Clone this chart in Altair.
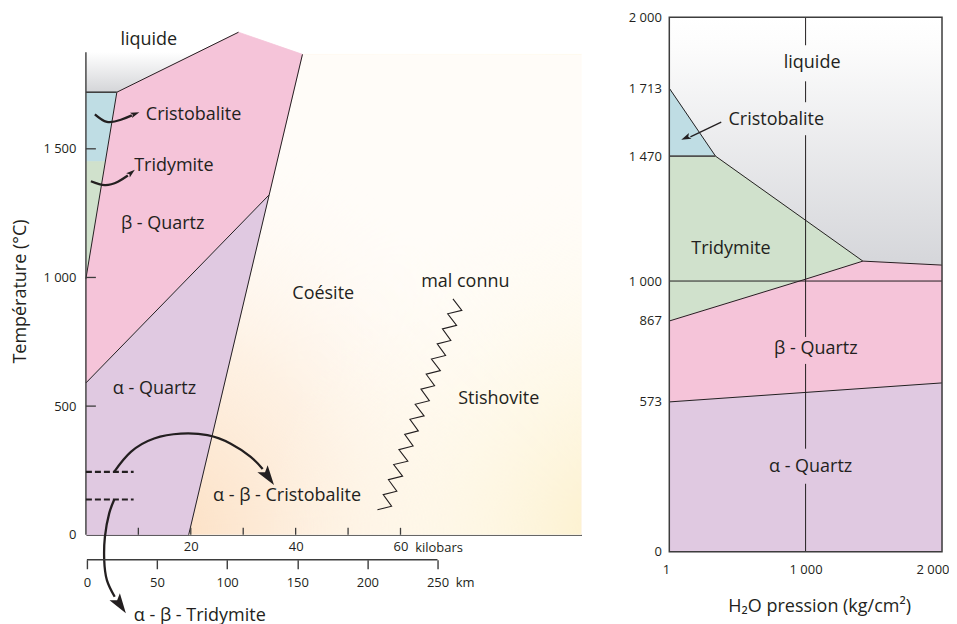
import altair as alt
import pandas as pd

FONT = "Open Sans"
INK = "#231f20"
AXC = "#3d3d3d"
PINK = "#f5c4d9"
LAV = "#e0c9e1"
BLUE = "#bfdde4"
GREEN = "#d0e1cc"
SPACE_FMT = "replace(format(datum.value, ','), ',', ' ')"
ARROW = "M0,0L-0.5,1.6L0,1.25L0.5,1.6Z"

# ---------------- Left panel: pression (kilobars) / température (°C)
L_W, L_H = 496, 518
L_P_MAX, L_T_MAX = 94.5, 2011
L_AXIS_TOP = 1875
KM_DOMAIN = [-0.7, 352.6]
KBAR_LABELS = [20, 40, 60]
KBAR_TICKS = [10, 20, 30, 40, 50, 60]
L_T_TICKS = [0, 500, 1000, 1500]
KM_TICKS = [0, 50, 100, 150, 200, 250]

L_LIQ = [(0, 1720), (5.9, 1720), (29.1, 1953), (0, 1953)]
L_COES = [(41.3, 1867), (94.5, 1867), (94.5, 0), (19.6, 0)]
L_CRISTO = [(0, 1720), (5.9, 1720), (3.7, 1450), (0, 1450)]
L_TRIDY = [(0, 1450), (3.7, 1450), (0, 995)]
L_BETA = [(5.9, 1720), (29.1, 1953), (41.3, 1867), (34.9, 1320), (0, 590), (0, 995)]
L_ALPHA = [(0, 590), (34.9, 1320), (19.6, 0), (0, 0)]
L_BOUNDARIES = [
    [(5.9, 1720), (29.1, 1953)],
    [(5.9, 1720), (0, 995)],
    [(0, 590), (34.9, 1320)],
    [(41.3, 1867), (19.6, 0)],
]
L_CRISTO_TOP = [(0, 1720), (5.9, 1720)]
ZZ_P = [55.6, 58.3, 56.7, 59.3, 57.7, 60.4, 58.7, 61.4, 59.7, 62.4, 60.8, 63.4, 61.8, 64.5,
        62.8, 65.5, 63.9, 66.5, 64.9, 67.6, 65.9, 68.6, 67.0, 69.6, 68.0, 70.7, 69.0, 71.7, 70.0]
ZZ_T = [97, 111, 156, 169, 214, 228, 273, 286, 331, 345, 390, 404, 449, 462,
        507, 521, 566, 579, 624, 638, 683, 697, 742, 755, 800, 814, 859, 872, 917]
L_DASHES = [244.6, 137.0]
L_DASH_P = [0, 9.1]

ARROW_CURVES = {
    "cristo": [(1.71, 1634), (4.0, 1605), (6.67, 1613), (8.76, 1630)],
    "tridy": [(0.95, 1374), (3.62, 1359), (6.10, 1372), (8.0, 1396)],
    "arc": [(5.39, 244.6), (8.57, 322), (13.01, 374), (18.10, 393), (23.18, 387),
            (27.62, 354), (31.43, 303), (33.71, 256)],
    "low": [(5.39, 136), (4.44, 83), (3.62, -8), (3.49, -98), (4.0, -176), (5.49, -241)],
}
HEAD_P = [10.19, 9.33, 35.87, 7.62]
HEAD_T = [1642, 1419, 193, -305]
HEAD_ANG = [69, 50, 145, 146]
HEAD_SIZE = [126, 126, 625, 625]

L_TEXT_LEFT = [
    ("Cristobalite", 11.43, 1630), ("Tridymite", 9.2, 1432), ("β - Quartz", 6.67, 1207),
    ("α - Quartz", 5.14, 566), ("Coésite", 39.37, 937), ("mal connu", 63.94, 982),
    ("Stishovite", 70.99, 527), ("α - β - Cristobalite", 24.25, 151),
    ("α - β - Tridymite", 9.14, -314),
]
L_TEXT_CENTER = [("liquide", 12.0, 1922)]

# ---------------- Right panel: H2O pression (kg/cm²) / température (°C)
R_W, R_H = 273, 535
R_T_DOM = [0, 573, 867, 1000, 1470, 1713, 2000]
R_T_RANGE = [535, 385, 304, 264, 139, 71, 0]
R_P_TICKS = [1, 1000, 2000]
R_LIQ = [(1, 2000), (2000, 2000), (2000, 1060), (1420, 1075), (340, 1470), (1, 1713)]
R_CRISTO = [(1, 1713), (340, 1470), (1, 1470)]
R_TRIDY = [(1, 1470), (340, 1470), (1420, 1075), (1000, 1007), (1, 867)]
R_BETA = [(1, 867), (1000, 1007), (1420, 1075), (2000, 1060), (2000, 642), (1, 573)]
R_ALPHA = [(1, 573), (2000, 642), (2000, 0), (1, 0)]
R_BOUNDARIES = [
    [(1, 1713), (340, 1470), (1420, 1075), (2000, 1060)],
    [(1, 867), (1000, 1007), (1420, 1075)],
    [(1, 573), (2000, 642)],
    [(1, 1000), (2000, 1000)],
]
R_CRISTO_TRID = [(1, 1470), (340, 1470)]
R_VSEG_T0 = [2000, 1741, 1545, 711, 260]
R_VSEG_T1 = [1887, 1663, 809, 394, 0]
R_ARROW = [(381.7, 1591.5), (155.5, 1539.3)]
R_HEAD = (88.8, 1528.3, 246, 150)
R_TEXT_LEFT = [("Cristobalite", 435, 1598), ("Tridymite", 162, 1122)]
R_TEXT_CENTER = [("liquide", 1048, 1814), ("β - Quartz", 1075, 767), ("α - Quartz", 1037, 325)]

# ---------------- axes (identical definition shared by every layer of a panel)
AX_KBAR = alt.Axis(orient="bottom", values=KBAR_LABELS, ticks=False, domain=True, domainColor=AXC,
                   domainWidth=1.4, labelFontSize=13, labelPadding=6, labelFlush=False,
                   grid=False, title=None)
AX_TL = alt.Axis(values=L_T_TICKS, labelExpr=SPACE_FMT, ticks=False, domain=False, labelFontSize=13,
                 labelPadding=10, grid=False, title="Température (°C)", titleFontSize=18,
                 titleFontWeight="normal", titlePadding=13, titleY=274)
AX_KM = alt.Axis(orient="bottom", offset=25, values=KM_TICKS, domain=False, ticks=True, tickSize=9,
                 tickColor=AXC, tickWidth=1.4, labelFontSize=13, labelPadding=8, labelFlush=False,
                 grid=False, title=None)
AX_PR = alt.Axis(values=R_P_TICKS, labelExpr=SPACE_FMT, ticks=False, domain=False, labelFontSize=13,
                 labelPadding=12, labelFlush=True, labelFlushOffset=7, grid=False,
                 title="H₂O pression (kg/cm²)", titleFontSize=18, titleFontWeight="normal",
                 titlePadding=21, titleX=150)
AX_TR = alt.Axis(values=R_T_DOM, labelExpr=SPACE_FMT, ticks=False, domain=False, labelFontSize=13,
                 labelPadding=8, grid=False, title=None)

xs_L = alt.Scale(domain=[0, L_P_MAX], nice=False, zero=False)
ys_L = alt.Scale(domain=[0, L_T_MAX], nice=False, zero=False)
km_scale = alt.Scale(domain=KM_DOMAIN, nice=False, zero=False)
xs_R = alt.Scale(domain=[1, 2000], nice=False, zero=False)
ys_R = alt.Scale(domain=R_T_DOM, range=R_T_RANGE, nice=False, zero=False)

LEFT = (xs_L, ys_L, AX_KBAR, AX_TL)
RIGHT = (xs_R, ys_R, AX_PR, AX_TR)


def X(field, panel):
    return alt.X(field, scale=panel[0], axis=panel[2])


def Y(field, panel):
    return alt.Y(field, scale=panel[1], axis=panel[3])


def pts_df(pts):
    return pd.DataFrame({"p": [a for a, _ in pts], "t": [b for _, b in pts],
                         "i": list(range(len(pts)))})


def enc(ch, panel):
    return ch.encode(x=X("p:Q", panel), y=Y("t:Q", panel), order=alt.Order("i:Q"))


def poly(pts, fill, panel):
    if isinstance(fill, str):
        m = alt.Chart(pts_df(pts)).mark_line(fill=fill, stroke=fill, strokeWidth=0.8)
    else:
        m = alt.Chart(pts_df(pts)).mark_line(fill=fill, strokeOpacity=0, strokeWidth=0)
    return enc(m, panel)


def line(pts, panel, color=INK, width=1.0):
    return enc(alt.Chart(pts_df(pts)).mark_line(stroke=color, strokeWidth=width), panel)


def texts(items, panel, align, size=18):
    df = pd.DataFrame({"label": [a for a, _, _ in items], "p": [b for _, b, _ in items],
                       "t": [c for _, _, c in items]})
    return alt.Chart(df).mark_text(font=FONT, fontSize=size, color=INK, align=align,
                                   baseline="middle").encode(
        x=X("p:Q", panel), y=Y("t:Q", panel), text="label:N")


def lin(stops, x2=0, y2=1):
    return {"gradient": "linear", "x1": 0, "y1": 0, "x2": x2, "y2": y2,
            "stops": [{"offset": o, "color": c} for o, c in stops]}


def rad(cx, cy, r, stops):
    return {"gradient": "radial", "x1": cx, "y1": cy, "r1": 0, "x2": cx, "y2": cy, "r2": r,
            "stops": [{"offset": o, "color": c} for o, c in stops]}


# ---------------- build left
left_layers = [
    poly(L_COES, "#fffcf8", LEFT),
    poly(L_COES, rad(0, 1, 0.85, [(0, "rgba(252,221,190,1)"), (0.5, "rgba(253,234,214,0.6)"),
                                  (1, "rgba(255,250,245,0)")]), LEFT),
    poly(L_COES, rad(1, 1, 0.75, [(0, "rgba(252,239,200,1)"), (1, "rgba(255,252,240,0)")]), LEFT),
    poly(L_LIQ, lin([(0, "#ffffff"), (0.33, "#ffffff"), (1, "#d4d5d8")]), LEFT),
    poly(L_CRISTO, BLUE, LEFT),
    poly(L_TRIDY, GREEN, LEFT),
    poly(L_BETA, PINK, LEFT),
    poly(L_ALPHA, LAV, LEFT),
]
left_layers += [line(b, LEFT) for b in L_BOUNDARIES]
left_layers.append(line(L_CRISTO_TOP, LEFT, color="#404040", width=1.6))
left_layers.append(line(list(zip(ZZ_P, ZZ_T)), LEFT, width=1.1))

axis_df = pd.DataFrame({"p": [0], "t0": [0], "t1": [L_AXIS_TOP]})
left_layers.append(alt.Chart(axis_df).mark_rule(color=AXC, strokeWidth=1.4).encode(
    x=X("p:Q", LEFT), y=Y("t0:Q", LEFT), y2="t1:Q"))
yt_df = pd.DataFrame({"t": L_T_TICKS[1:], "p0": 0, "p1": 1.9})
left_layers.append(alt.Chart(yt_df).mark_rule(color=AXC, strokeWidth=1.3).encode(
    x=X("p0:Q", LEFT), x2="p1:Q", y=Y("t:Q", LEFT)))
xt_df = pd.DataFrame({"p": KBAR_TICKS, "t0": 0, "t1": 27})
left_layers.append(alt.Chart(xt_df).mark_rule(color=AXC, strokeWidth=1.3).encode(
    x=X("p:Q", LEFT), y=Y("t0:Q", LEFT), y2="t1:Q"))

dash_df = pd.DataFrame({"t": L_DASHES, "p0": L_DASH_P[0], "p1": L_DASH_P[1]})
left_layers.append(alt.Chart(dash_df).mark_rule(color=INK, strokeWidth=2.2, strokeDash=[6, 3]).encode(
    x=X("p0:Q", LEFT), x2="p1:Q", y=Y("t:Q", LEFT)))

rows = []
for name, pts in ARROW_CURVES.items():
    for i, (p, t) in enumerate(pts):
        rows.append({"a": name, "i": i, "p": p, "t": t})
left_layers.append(alt.Chart(pd.DataFrame(rows)).mark_line(
    stroke=INK, strokeWidth=2.3, interpolate="natural").encode(
    x=X("p:Q", LEFT), y=Y("t:Q", LEFT), detail="a:N", order=alt.Order("i:Q")))
head_df = pd.DataFrame({"p": HEAD_P, "t": HEAD_T, "ang": HEAD_ANG, "sz": HEAD_SIZE})
left_layers.append(alt.Chart(head_df).mark_point(shape=ARROW, filled=True, color=INK, opacity=1,
                                                 strokeWidth=0).encode(
    x=X("p:Q", LEFT), y=Y("t:Q", LEFT),
    angle=alt.Angle("ang:Q", scale=None), size=alt.Size("sz:Q", scale=None)))

left_layers.append(texts(L_TEXT_LEFT, LEFT, "left"))
left_layers.append(texts(L_TEXT_CENTER, LEFT, "center"))
left_layers.append(texts([("kilobars", 62.8, -50)], LEFT, "left", size=13))

inner_left = alt.layer(*left_layers)

km_df = pd.DataFrame({"k0": [KM_TICKS[0]], "k1": [KM_TICKS[-1]]})
km_rule = alt.Chart(km_df).mark_rule(color=AXC, strokeWidth=1.4).encode(
    x=alt.X("k0:Q", scale=km_scale, axis=AX_KM), x2="k1:Q", y=alt.value(L_H + 25))
km_text = alt.Chart(pd.DataFrame({"k": [263], "label": ["km"]})).mark_text(
    font=FONT, fontSize=13, color=INK, align="left", baseline="middle").encode(
    x=alt.X("k:Q", scale=km_scale, axis=AX_KM), y=alt.value(L_H + 48), text="label:N")
km_layer = alt.layer(km_rule, km_text)

left = alt.layer(inner_left, km_layer).resolve_scale(x="independent").properties(
    width=L_W, height=L_H)

# ---------------- build right
right_layers = [
    poly(R_LIQ, lin([(0, "#ffffff"), (0.12, "#fcfcfc"), (1, "#d5d6da")]), RIGHT),
    poly(R_CRISTO, BLUE, RIGHT),
    poly(R_TRIDY, GREEN, RIGHT),
    poly(R_BETA, PINK, RIGHT),
    poly(R_ALPHA, LAV, RIGHT),
]
right_layers += [line(b, RIGHT) for b in R_BOUNDARIES]
right_layers.append(line(R_CRISTO_TRID, RIGHT, color="#505050", width=1.8))
vseg_df = pd.DataFrame({"p": 1000, "t0": R_VSEG_T0, "t1": R_VSEG_T1})
right_layers.append(alt.Chart(vseg_df).mark_rule(color=INK, strokeWidth=1).encode(
    x=X("p:Q", RIGHT), y=Y("t0:Q", RIGHT), y2="t1:Q"))
right_layers.append(line(R_ARROW, RIGHT, width=1.3))
rh_df = pd.DataFrame({"p": [R_HEAD[0]], "t": [R_HEAD[1]], "ang": [R_HEAD[2]], "sz": [R_HEAD[3]]})
right_layers.append(alt.Chart(rh_df).mark_point(shape=ARROW, filled=True, color=INK, opacity=1,
                                                strokeWidth=0).encode(
    x=X("p:Q", RIGHT), y=Y("t:Q", RIGHT),
    angle=alt.Angle("ang:Q", scale=None), size=alt.Size("sz:Q", scale=None)))
right_layers.append(texts(R_TEXT_LEFT, RIGHT, "left"))
right_layers.append(texts(R_TEXT_CENTER, RIGHT, "center"))

frame_df = pd.DataFrame({"x0": [1], "x1": [2000], "t0": [0], "t1": [2000]})
right_layers.append(alt.Chart(frame_df).mark_rect(filled=False, stroke=AXC, strokeWidth=1.5).encode(
    x=X("x0:Q", RIGHT), x2="x1:Q", y=Y("t0:Q", RIGHT), y2="t1:Q"))

right = alt.layer(*right_layers).properties(width=R_W, height=R_H)

chart = alt.hconcat(left, right, spacing=44,
                    padding={"left": 3, "top": 3, "right": 0, "bottom": 0}).configure_view(
    stroke=None).configure_axis(grid=False, labelFont=FONT, titleFont=FONT, labelColor=INK,
                                titleColor=INK)

chart.save("out.html", embed_options={"renderer": "svg", "actions": False})
